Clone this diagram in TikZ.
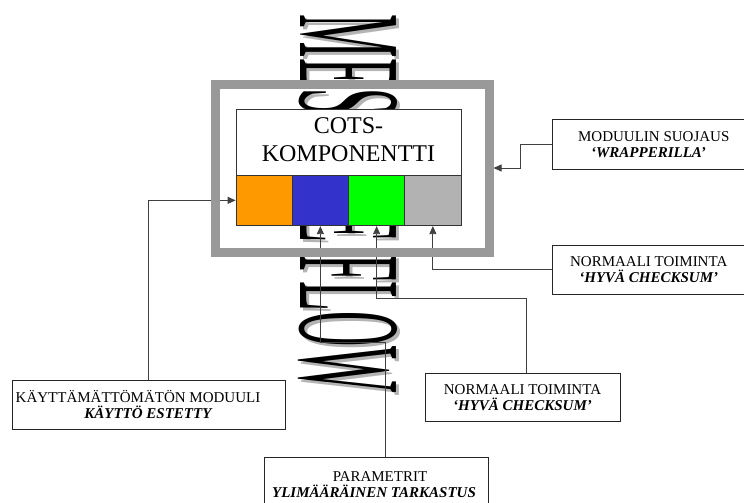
\documentclass[tikz,border=0pt]{standalone}
\usepackage{fontspec}
\setmainfont{Liberation Serif}
\usepackage{graphicx}
\usetikzlibrary{arrows.meta}

\definecolor{framegray}{HTML}{999999}
\definecolor{cellorange}{HTML}{FF9900}
\definecolor{cellblue}{HTML}{3333CC}
\definecolor{cellgreen}{HTML}{00FF00}
\definecolor{cellgray}{HTML}{B2B2B2}
\definecolor{wire}{HTML}{404040}
\definecolor{shadowgray}{HTML}{B4B4B4}

\pgfdeclarelayer{back}
\pgfdeclarelayer{wires}
\pgfsetlayers{back,wires,main}

\tikzset{
  cell/.style={draw=black!80, line width=0.8pt, minimum width=56.25pt,
    minimum height=50.7pt, inner sep=0pt},
  infobox/.style={draw=black!85, fill=white, line width=0.8pt, inner sep=2pt,
    align=center, font=\fontsize{15}{16}\selectfont},
  feed/.style={draw=wire, line width=0.8pt, -{Triangle[length=8pt,width=7pt]}},
  wordart/.style={rotate=-90, inner sep=0pt},
}
\newcommand{\bannertext}{\scalebox{0.333}[1]{\fontsize{146.5}{146.5}\selectfont MESSAGE FLOW}}

\begin{document}
\begin{tikzpicture}[x=1pt,y=-1pt]
\useasboundingbox (0,0) rectangle (744,503);
\clip (0,0) rectangle (744,503);

% rotated banner with a drop shadow, behind everything
\begin{pgfonlayer}{back}
  \node[wordart, text=shadowgray] (msgshadow) at (351,207) {\bannertext};
  \node[wordart] (msg) at (348,204) {\bannertext};
\end{pgfonlayer}

% protection frame around the component
\node[draw=framegray, line width=9pt, minimum width=273.5pt, minimum height=168pt,
  inner sep=0pt] (frame) at (352.25,168.5) {};

% the component and its four modules
\node[draw=black!80, fill=white, line width=0.8pt, minimum width=225pt,
  minimum height=66pt, inner sep=0pt, align=center,
  font=\fontsize{24}{27.4}\selectfont] (cots) at (348.5,142)
  {COTS-\\KOMPONENTTI\rule[-5pt]{0pt}{5pt}};
\node[cell, fill=cellorange] (c1) at (264.125,200.35) {};
\node[cell, fill=cellblue]   (c2) at (320.375,200.35) {};
\node[cell, fill=cellgreen]  (c3) at (376.625,200.35) {};
\node[cell, fill=cellgray]   (c4) at (432.875,200.35) {};

% annotation boxes
\node[infobox, minimum width=193pt, minimum height=49.7pt] (mod) at (648.5,144.15)
  {\hbox{MODUULIN SUOJAUS\kern-10.5pt}\\\textbf{\textit{‘WRAPPERILLA’}}};
\node[infobox, minimum width=192.5pt, minimum height=48.3pt] (nrm1) at (648.75,269.85)
  {NORMAALI TOIMINTA\\\textbf{\textit{‘HYVÄ CHECKSUM’}}};
\node[infobox, minimum width=195pt, minimum height=48.7pt] (nrm2) at (522.5,397.35)
  {NORMAALI TOIMINTA\\\textbf{\textit{‘HYVÄ CHECKSUM’}}};
\node[infobox, minimum width=273pt, minimum height=49pt] (kay) at (148.5,404.5)
  {\hbox{KÄYTTÄMÄTTÖMÄTÖN MODUULI\kern21pt}\\\textbf{\textit{KÄYTTÖ ESTETTY}}};
\node[infobox, minimum width=224pt, minimum height=55pt] (par) at (376,484.5)
  {\hbox{PARAMETRIT\kern-8pt}\\\hbox{\textbf{\textit{YLIMÄÄRÄINEN TARKASTUS}}\kern4pt}};

% bends of the connectors
\coordinate (p1) at (385,342);
\coordinate (g1) at (526,298);
\coordinate (m1) at (520,168);

% connectors run beneath the frame
\begin{pgfonlayer}{wires}
  \draw[feed] (kay.north) |- (c1.west);
  \draw[feed] (par.north -| p1) -- (p1) -| (c2.south);
  \draw[feed] (nrm2.north -| g1) -- (g1) -| (c3.south);
  \draw[feed] (nrm1.west) -| (c4.south);
  \draw[feed] (mod.west) -| (m1) -- (frame.east |- m1);
\end{pgfonlayer}
\end{tikzpicture}
\end{document}
